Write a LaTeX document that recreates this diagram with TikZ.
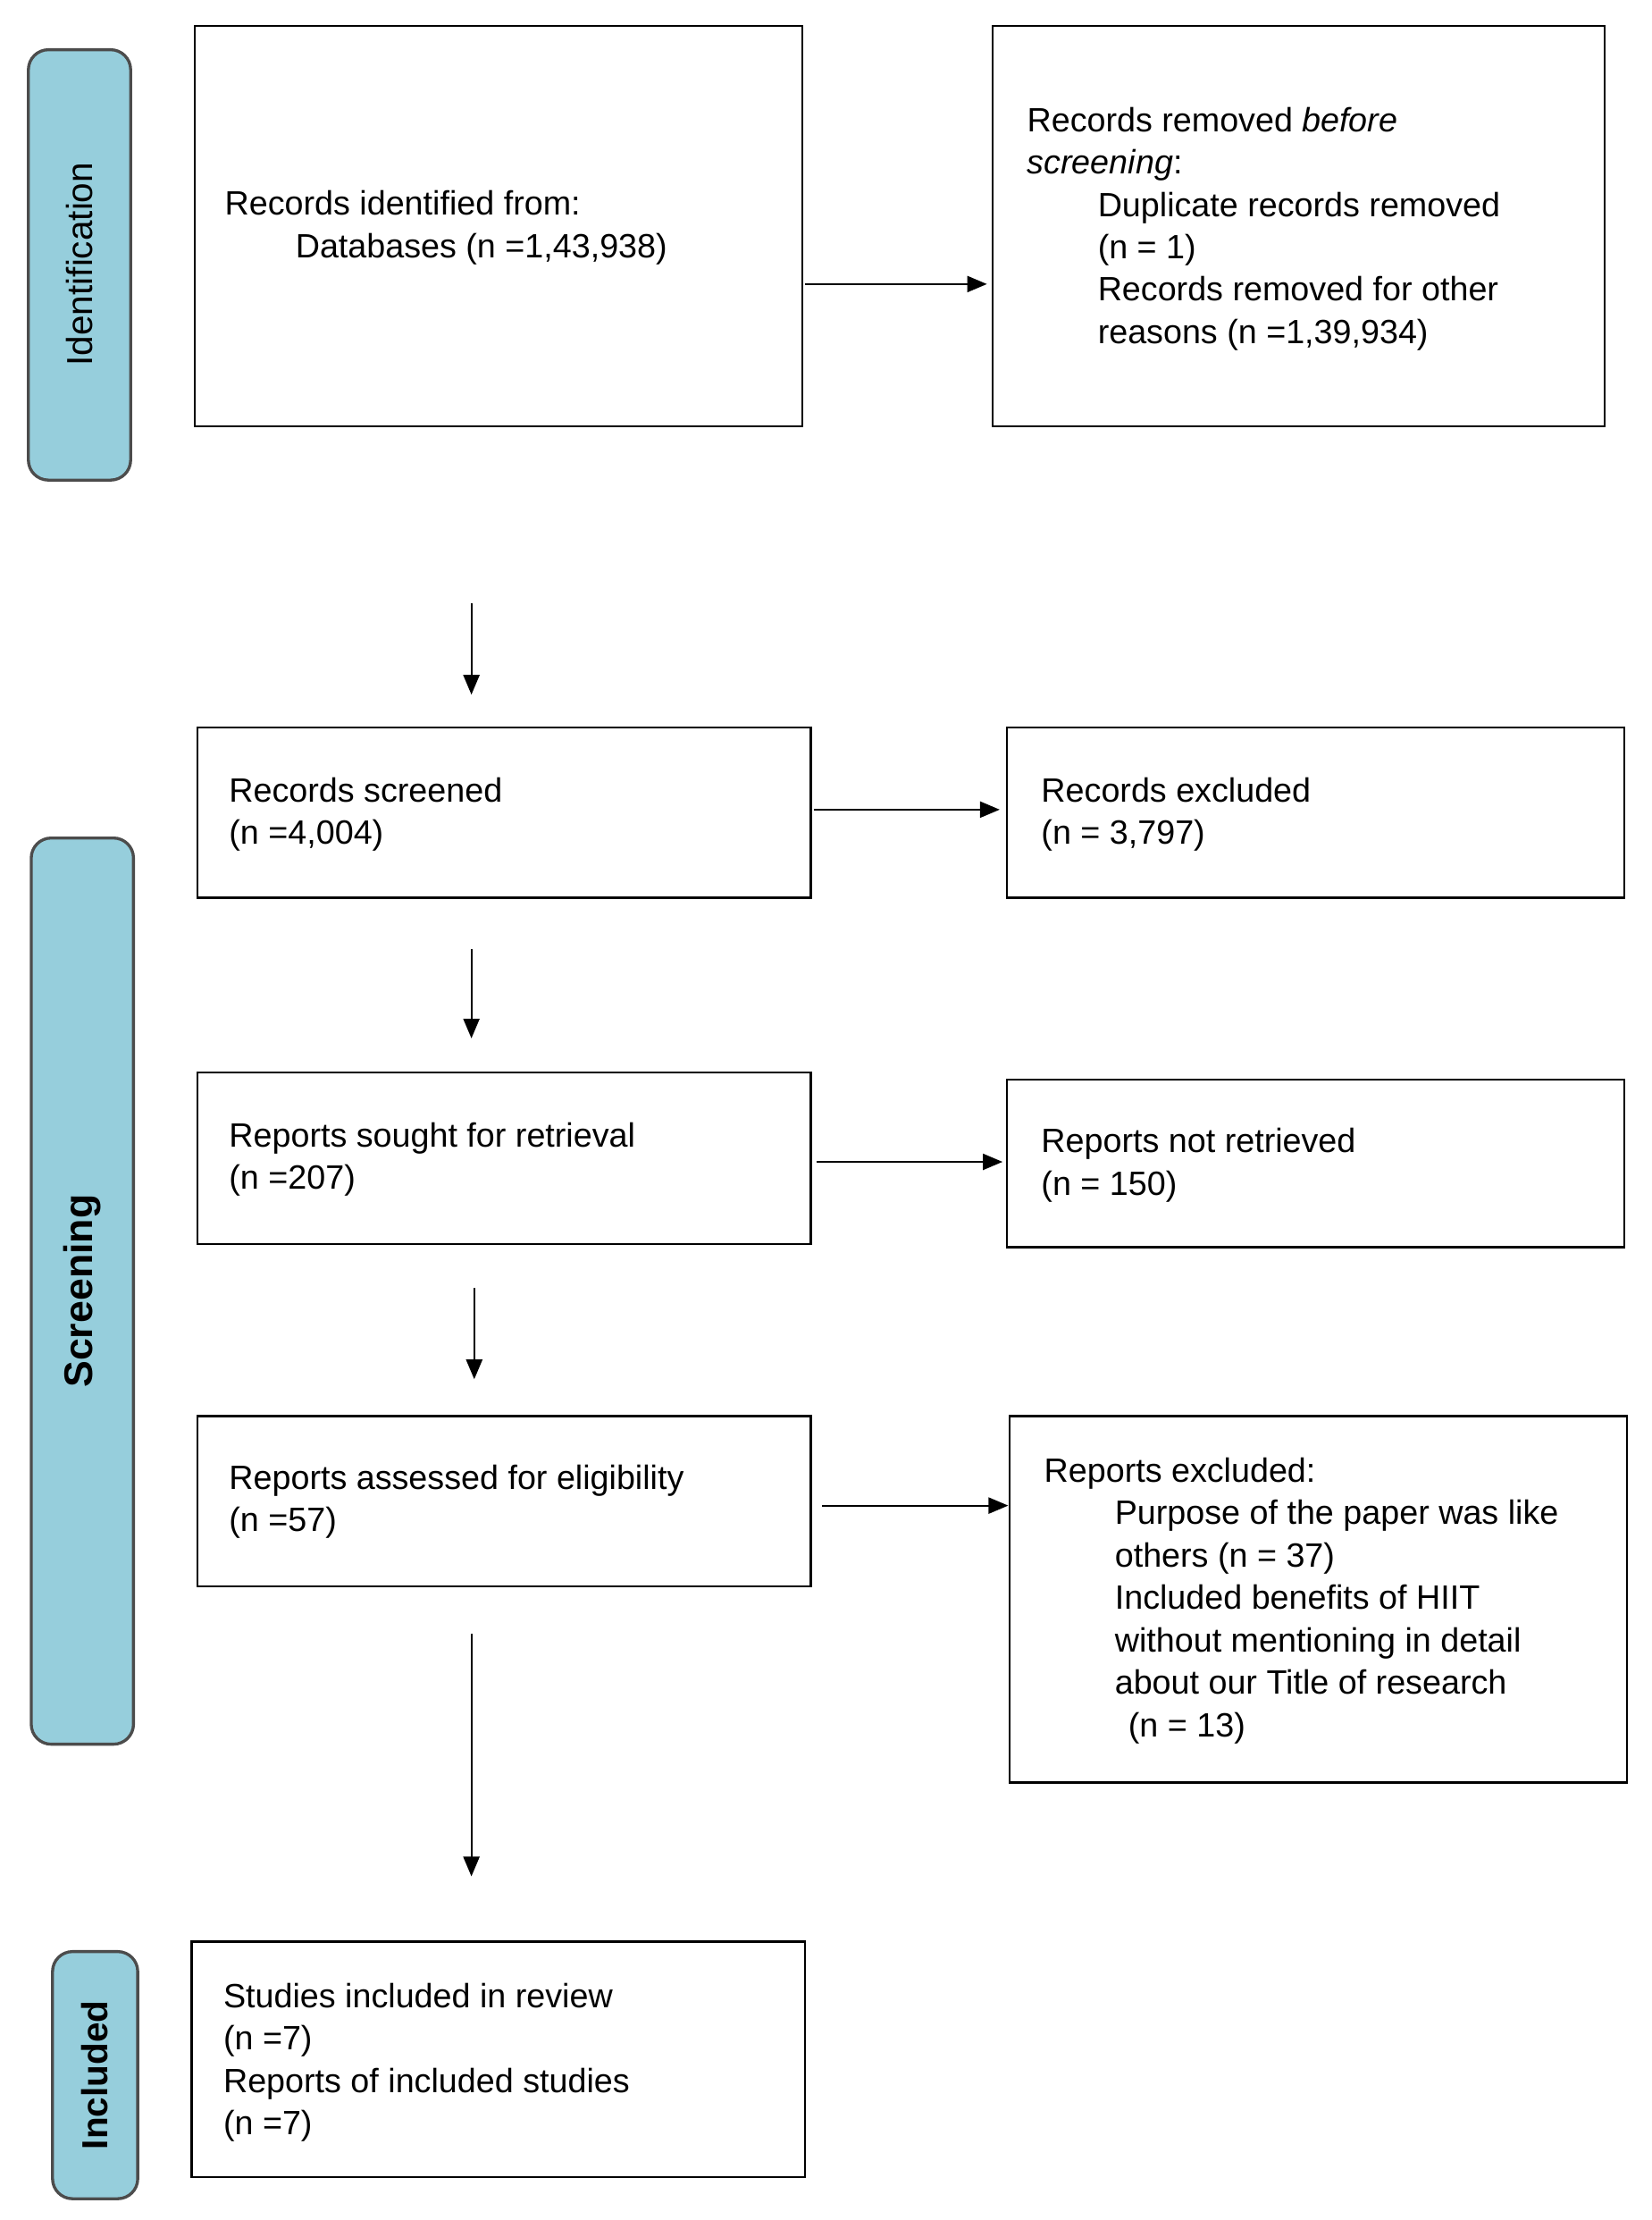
\documentclass[tikz,border=0pt]{standalone}
\usepackage{fontspec}
\setmainfont{Liberation Sans}
\usetikzlibrary{arrows}
\definecolor{barblue}{RGB}{150,206,220}
\tikzstyle{box}=[draw=black,thick]
\tikzstyle{txt}=[anchor=north west,inner sep=0pt,align=left,font=\fontsize{13.5}{17}\selectfont]
\tikzstyle{bar}=[draw=black!70,very thick,fill=barblue,rounded corners=8pt]
\tikzstyle{barlabel}=[rotate=90,font=\fontsize{14.5}{17}\selectfont]
\tikzstyle{arrow}=[thick,->,>=triangle 45]

\begin{document}
\begin{tikzpicture}[x=0.02cm,y=-0.02cm]
    \useasboundingbox (0,0) rectangle (1163,1563);
    % side bars
    \draw [bar] (20,35) rectangle (92,338);
    \node [barlabel] at (56,186) {Identification};
    \draw [bar] (22,590) rectangle (94,1228);
    \node [barlabel,font=\fontsize{16}{17}\selectfont\bfseries] at (58,909) {Screening};
    \draw [bar] (37,1374) rectangle (97,1548);
    \node [barlabel,font=\fontsize{14.5}{17}\selectfont\bfseries] at (67,1461) {Included};

    % boxes
    \draw [box] (137,18) rectangle (565,300);
    \node (ident) [txt] at (158,134) {Records identified from:\\\hspace*{2.1em}Databases (n =1,43,938)};
    \draw [box] (699,18) rectangle (1130,300);
    \node (removed) [txt] at (723,75) {Records removed \textit{before}\\\textit{screening}:\\
        \hspace*{2.1em}Duplicate records removed\\\hspace*{2.1em}(n = 1)\\
        \hspace*{2.1em}Records removed for other\\\hspace*{2.1em}reasons (n =1,39,934)};
    \draw [box] (139,512) rectangle (571,632);
    \node (screened) [txt] at (161,547) {Records screened\\(n =4,004)};
    \draw [box] (709,512) rectangle (1144,632);
    \node (excluded) [txt] at (733,547) {Records excluded\\(n = 3,797)};
    \draw [box] (139,755) rectangle (571,876);
    \node (sought) [txt] at (161,790) {Reports sought for retrieval\\(n =207)};
    \draw [box] (709,760) rectangle (1144,878);
    \node (notretr) [txt] at (733,794) {Reports not retrieved\\(n = 150)};
    \draw [box] (139,997) rectangle (571,1117);
    \node (assessed) [txt] at (161,1031) {Reports assessed for eligibility\\(n =57)};
    \draw [box] (711,997) rectangle (1146,1255);
    \node (repexcl) [txt] at (735,1026) {Reports excluded:\\
        \hspace*{2.1em}Purpose of the paper was like\\\hspace*{2.1em}others (n = 37)\\
        \hspace*{2.1em}Included benefits of HIIT\\\hspace*{2.1em}without mentioning in detail\\
        \hspace*{2.1em}about our Title of research\\\hspace*{2.5em}(n = 13)};
    \draw [box] (135,1367) rectangle (567,1533);
    \node (included) [txt] at (157,1396) {Studies included in review\\(n =7)\\Reports of included studies\\(n =7)};

    % arrows
    \coordinate (a1) at (567,200);  \coordinate (b1) at (695,200);
    \coordinate (a2) at (573,570);  \coordinate (b2) at (704,570);
    \coordinate (a3) at (575,818);  \coordinate (b3) at (706,818);
    \coordinate (a4) at (579,1060); \coordinate (b4) at (710,1060);
    \coordinate (v1) at (332,425);  \coordinate (w1) at (332,489);
    \coordinate (v2) at (332,668);  \coordinate (w2) at (332,731);
    \coordinate (v3) at (334,907);  \coordinate (w3) at (334,971);
    \coordinate (v4) at (332,1150); \coordinate (w4) at (332,1321);
    \draw [arrow] (a1) -- (b1);
    \draw [arrow] (a2) -- (b2);
    \draw [arrow] (a3) -- (b3);
    \draw [arrow] (a4) -- (b4);
    \draw [arrow] (v1) -- (w1);
    \draw [arrow] (v2) -- (w2);
    \draw [arrow] (v3) -- (w3);
    \draw [arrow] (v4) -- (w4);
\end{tikzpicture}
\end{document}
